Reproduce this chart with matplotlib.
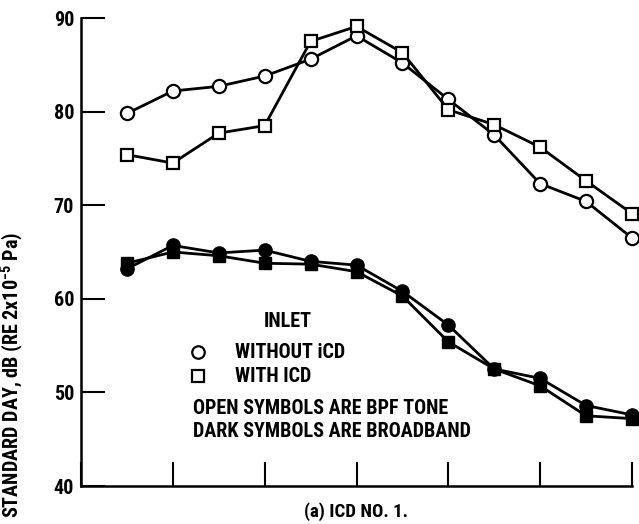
import matplotlib
matplotlib.use("Agg")
import matplotlib.pyplot as plt
from matplotlib import font_manager

# Point index along the horizontal axis (12 measurement stations)
stations = [1, 2, 3, 4, 5, 6, 7, 8, 9, 10, 11, 12]

# BPF tone levels (open symbols)
tone_without_icd = [79.8, 82.2, 82.7, 83.8, 85.6, 88.1, 85.2, 81.3, 77.5, 72.3, 70.4, 66.5]
tone_with_icd = [75.4, 74.5, 77.7, 78.5, 87.5, 89.1, 86.3, 80.2, 78.6, 76.2, 72.6, 69.1]

# Broadband levels (dark symbols)
broad_without_icd = [63.2, 65.7, 64.9, 65.2, 64.0, 63.6, 60.8, 57.2, 52.5, 51.5, 48.6, 47.6]
broad_with_icd = [63.8, 65.0, 64.6, 63.8, 63.7, 62.9, 60.3, 55.4, 52.5, 50.7, 47.5, 47.2]

y_ticks = [40, 50, 60, 70, 80, 90]
x_ticks = [0, 2, 4, 6, 8, 10, 12]

# Prefer a narrow bold face for the lettering; fall back to DejaVu Sans
installed = {f.name for f in font_manager.fontManager.ttflist}
narrow_choices = ["Roboto Condensed", "Archivo Narrow", "PT Sans Narrow", "Fira Sans Condensed",
                  "Barlow Condensed", "Liberation Sans Narrow", "IBM Plex Sans Condensed",
                  "Encode Sans Condensed", "Saira Condensed", "Asap Condensed"]
narrow = next((n for n in narrow_choices if n in installed), None)
if narrow:
    plt.rcParams["font.family"] = [narrow, "DejaVu Sans"]
    fs = 14.5
else:
    plt.rcParams["font.family"] = ["DejaVu Sans"]
    fs = 11
plt.rcParams["font.weight"] = "bold"
plt.rcParams["mathtext.default"] = "regular"

fig = plt.figure(figsize=(6.39, 5.24), dpi=100)
ax = fig.add_axes([81 / 639, 1 - 486 / 524, (632 - 81) / 639, (486 - 18) / 524])

line_kw = dict(color="black", lw=2.0, clip_on=False, zorder=3)
ax.plot(stations, tone_without_icd, marker="o", ms=9.5, mfc="white", mec="black", mew=1.6, **line_kw)
ax.plot(stations, tone_with_icd, marker="s", ms=9.0, mfc="white", mec="black", mew=1.6, **line_kw)
ax.plot(stations, broad_without_icd, marker="o", ms=9.5, mfc="black", mec="black", mew=1.0, **line_kw)
ax.plot(stations, broad_with_icd, marker="s", ms=9.0, mfc="black", mec="black", mew=1.0, **line_kw)

ax.set_xlim(0, 12)
ax.set_ylim(40, 90)
ax.set_xticks(x_ticks)
ax.set_xticklabels([])
ax.set_yticks(y_ticks)
ax.set_yticklabels([str(v) for v in y_ticks], fontsize=fs, fontweight="bold")
ax.tick_params(axis="both", direction="in", length=17, width=1.5, color="black")
ax.tick_params(axis="y", pad=5)
for side in ("top", "right"):
    ax.spines[side].set_visible(False)
for side in ("left", "bottom"):
    ax.spines[side].set_linewidth(1.8)

# Legend block drawn as plain text with symbols
ax.text(4.51, 57.6, "INLET", fontsize=fs, fontweight="bold", ha="center", va="center")
ax.plot([2.55], [54.3], marker="o", ms=9, mfc="white", mec="black", mew=1.6, clip_on=False)
ax.plot([2.55], [51.75], marker="s", ms=8.5, mfc="white", mec="black", mew=1.6, clip_on=False)
ax.text(3.35, 54.3, "WITHOUT iCD", fontsize=fs, fontweight="bold", ha="left", va="center")
ax.text(3.35, 51.75, "WITH ICD", fontsize=fs, fontweight="bold", ha="left", va="center")
ax.text(2.44, 48.33, "OPEN SYMBOLS ARE BPF TONE", fontsize=fs, fontweight="bold", ha="left", va="center")
ax.text(2.44, 45.77, "DARK SYMBOLS ARE BROADBAND", fontsize=fs, fontweight="bold", ha="left", va="center")

fig.text(356 / 639, 1 - 512 / 524, "(a) ICD NO. 1.", fontsize=fs - 1, fontweight="bold",
         ha="center", va="center")
fig.text(12 / 639, 1 - 232 / 524, r"STANDARD DAY, dB (RE 2x10$^{-5}$ Pa)", fontsize=fs,
         fontweight="bold", rotation=90, ha="center", va="top")

fig.savefig("out.png", dpi=100)
